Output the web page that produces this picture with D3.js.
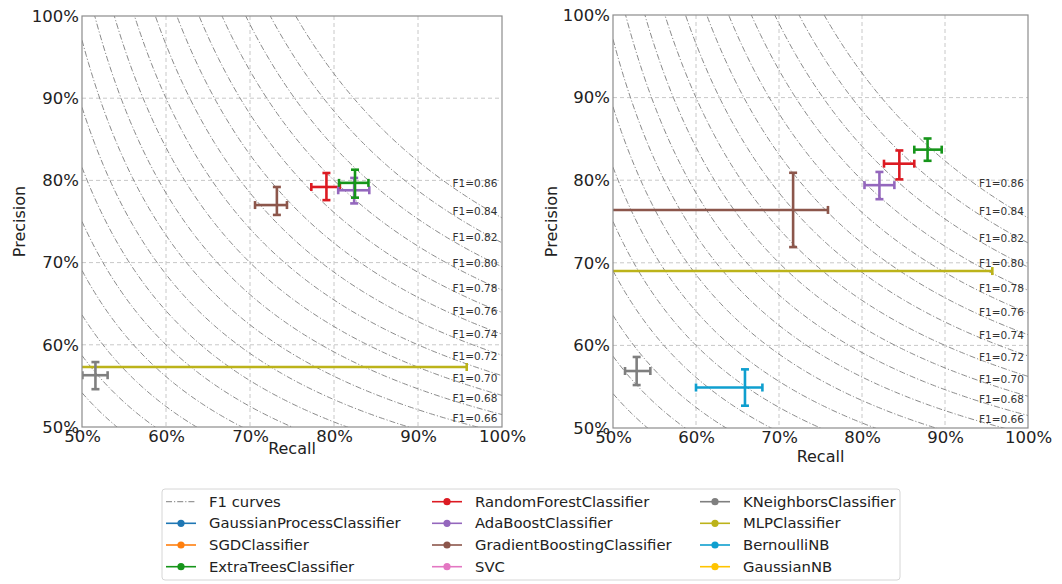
<!DOCTYPE html>
<html>
<head>
<meta charset="utf-8">
<script src="https://cdn.jsdelivr.net/npm/d3@7"></script>
<style>
body { margin: 0; background: #fff; }
text { font-family: "DejaVu Sans", sans-serif; fill: #222; }
</style>
</head>
<body>
<script>
// F1 iso-curves drawn on both panels
var f1Values = [0.50, 0.52, 0.54, 0.56, 0.58, 0.60, 0.62, 0.64, 0.66, 0.68, 0.70,
                0.72, 0.74, 0.76, 0.78, 0.80, 0.82, 0.84, 0.86]
var f1Labelled = [0.66, 0.68, 0.70, 0.72, 0.74, 0.76, 0.78, 0.80, 0.82, 0.84, 0.86]
var ticks = [50, 60, 70, 80, 90, 100]

// legend entries, matplotlib tab10 order
var classifiers = ["GaussianProcessClassifier", "SGDClassifier", "ExtraTreesClassifier",
  "RandomForestClassifier", "AdaBoostClassifier", "GradientBoostingClassifier", "SVC",
  "KNeighborsClassifier", "MLPClassifier", "BernoulliNB", "GaussianNB"]
var colors = ["#1f77b4", "#ff7f0e", "#16951a", "#dc1a22", "#9467bd", "#8c564b", "#e377c2",
  "#7f7f7f", "#bcb31a", "#0f9fcf", "#ffc400"]

// left panel (visible classifiers only)
var leftNames     = ["MLPClassifier", "KNeighborsClassifier", "GradientBoostingClassifier", "RandomForestClassifier", "AdaBoostClassifier", "ExtraTreesClassifier"]
var leftRecall    = [45.8, 51.6, 73.2, 79.1, 82.4, 82.5]
var leftRecallLo  = [50.0, 1.55, 2.6, 1.8, 1.9, 1.9]
var leftRecallHi  = [50.0, 1.45, 1.2, 1.6, 1.8, 1.6]
var leftPrec      = [57.3, 56.3, 77.0, 79.2, 78.8, 79.7]
var leftPrecLo    = [0.0, 1.7, 1.2, 1.6, 1.6, 1.8]
var leftPrecHi    = [0.0, 1.6, 2.2, 1.7, 1.5, 1.6]

// right panel
var rightNames    = ["MLPClassifier", "GradientBoostingClassifier", "KNeighborsClassifier", "BernoulliNB", "AdaBoostClassifier", "RandomForestClassifier", "ExtraTreesClassifier"]
var rightRecall   = [45.7, 71.7, 52.85, 65.9, 82.1, 84.5, 87.9]
var rightRecallLo = [50.0, 25.0, 1.4, 5.9, 1.8, 1.85, 1.6]
var rightRecallHi = [50.0, 4.2, 1.65, 2.1, 1.8, 1.8, 1.7]
var rightPrec     = [69.0, 76.4, 56.9, 54.9, 79.4, 82.0, 83.7]
var rightPrecLo   = [0.0, 4.5, 1.7, 2.2, 1.7, 1.9, 1.35]
var rightPrecHi   = [0.0, 4.5, 1.7, 2.2, 1.6, 1.6, 1.35]

var width = 1062, height = 584

var svg = d3.select("body").append("svg").attr("width", width).attr("height", height)

var panels = [
  {x0: 82, x1: 502, y0: 16, y1: 427, recallY: 454, precX: 19, names: leftNames, r: leftRecall, rlo: leftRecallLo, rhi: leftRecallHi, p: leftPrec, plo: leftPrecLo, phi: leftPrecHi},
  {x0: 613, x1: 1028, y0: 15, y1: 428, recallY: 462, precX: 551, names: rightNames, r: rightRecall, rlo: rightRecallLo, rhi: rightRecallHi, p: rightPrec, plo: rightPrecLo, phi: rightPrecHi}
]

function colorOf(name) { return colors[classifiers.indexOf(name)] }

panels.forEach(function(P, k) {
  var x = d3.scaleLinear().domain([50, 100]).range([P.x0, P.x1])
  var y = d3.scaleLinear().domain([50, 100]).range([P.y1, P.y0])
  var g = svg.append("g").attr("id", "panel" + k)

  g.append("clipPath").attr("id", "clip" + k).append("rect")
    .attr("x", P.x0).attr("y", P.y0).attr("width", P.x1 - P.x0).attr("height", P.y1 - P.y0)

  // grid
  g.append("g").selectAll("line.gx").data(ticks.slice(1, -1)).enter().append("line")
    .attr("x1", d => x(d)).attr("x2", d => x(d)).attr("y1", P.y0).attr("y2", P.y1)
    .attr("stroke", "#c8c8c8").attr("stroke-dasharray", "4,3")
  g.append("g").selectAll("line.gy").data(ticks.slice(1, -1)).enter().append("line")
    .attr("y1", d => y(d)).attr("y2", d => y(d)).attr("x1", P.x0).attr("x2", P.x1)
    .attr("stroke", "#c8c8c8").attr("stroke-dasharray", "4,3")

  // F1 curves: p = f*r / (2r - f)
  var line = d3.line().x(d => x(d[0])).y(d => y(d[1]))
  var rs = d3.range(0, 201).map(i => 50 + i * 0.25)
  var curves = g.append("g").attr("clip-path", "url(#clip" + k + ")")
  f1Values.forEach(function(f) {
    var pts = rs.map(function(r) {
      var rr = r / 100
      var p = f * rr / (2 * rr - f)
      return [r, p * 100]
    }).filter(d => d[1] > 0 && d[1] <= 104)
    curves.append("path").attr("d", line(pts)).attr("fill", "none")
      .attr("stroke", "#8a8a8a").attr("stroke-width", 1)
      .attr("stroke-dasharray", "6,2,1.2,2")
  })

  // F1 labels
  g.append("g").selectAll("text").data(f1Labelled).enter().append("text")
    .attr("x", x(94.1))
    .attr("y", function(f) { var rr = 0.935; return y(100 * f * rr / (2 * rr - f)) })
    .attr("dy", "0.35em").attr("font-size", "10.5px").style("fill", "#333")
    .text(f => "F1=" + f.toFixed(2))

  // error bars
  var bars = g.append("g").attr("clip-path", "url(#clip" + k + ")")
  P.names.forEach(function(name, i) {
    var c = colorOf(name), cx = x(P.r[i]), cy = y(P.p[i])
    var xl = x(P.r[i] - P.rlo[i]), xh = x(P.r[i] + P.rhi[i])
    var yl = y(P.p[i] - P.plo[i]), yh = y(P.p[i] + P.phi[i])
    var cap = 4
    var gg = bars.append("g").attr("stroke", c).attr("stroke-width", 2.6).attr("fill", "none")
    gg.append("line").attr("x1", xl).attr("x2", xh).attr("y1", cy).attr("y2", cy)
    gg.append("line").attr("x1", xl).attr("x2", xl).attr("y1", cy - cap).attr("y2", cy + cap)
    gg.append("line").attr("x1", xh).attr("x2", xh).attr("y1", cy - cap).attr("y2", cy + cap)
    if (P.plo[i] + P.phi[i] > 0) {
      gg.append("line").attr("x1", cx).attr("x2", cx).attr("y1", yl).attr("y2", yh)
      gg.append("line").attr("x1", cx - cap).attr("x2", cx + cap).attr("y1", yl).attr("y2", yl)
      gg.append("line").attr("x1", cx - cap).attr("x2", cx + cap).attr("y1", yh).attr("y2", yh)
    }
  })

  // frame
  g.append("rect").attr("x", P.x0).attr("y", P.y0).attr("width", P.x1 - P.x0).attr("height", P.y1 - P.y0)
    .attr("fill", "none").attr("stroke", "#8c8c8c").attr("stroke-width", 1.2)

  // axes
  var ax = g.append("g").attr("transform", "translate(0," + P.y1 + ")")
    .call(d3.axisBottom(x).tickValues(ticks).tickSize(0).tickPadding(3).tickFormat(d => d + "%"))
  var ay = g.append("g").attr("transform", "translate(" + P.x0 + ",0)")
    .call(d3.axisLeft(y).tickValues(ticks).tickSize(0).tickPadding(3).tickFormat(d => d + "%"))
  ;[ax, ay].forEach(function(a) {
    a.select(".domain").remove()
    a.selectAll("text").attr("font-size", "16.5px").style("fill", "#222").attr("font-family", "DejaVu Sans")
  })

  g.append("text").attr("x", (P.x0 + P.x1) / 2).attr("y", P.recallY).attr("text-anchor", "middle")
    .attr("font-size", "16px").text("Recall")
  g.append("text").attr("transform", "translate(" + P.precX + "," + ((P.y0 + P.y1) / 2) + ") rotate(-90)")
    .attr("text-anchor", "middle").attr("dy", "0.35em").attr("font-size", "16px").text("Precision")
})

// legend
var legendEntries = ["F1 curves"].concat(classifiers)
var lg = svg.append("g").attr("id", "legend")
lg.append("rect").attr("x", 162).attr("y", 489).attr("width", 738).attr("height", 91).attr("rx", 3)
  .attr("fill", "#fff").attr("stroke", "#d6d6d6")
var colX = [166, 432, 700], rowY = [501.7, 523.3, 545, 566.7]
legendEntries.forEach(function(name, i) {
  var cx = colX[Math.floor(i / 4)], cy = rowY[i % 4]
  if (i == 0) {
    lg.append("line").attr("x1", cx).attr("x2", cx + 30).attr("y1", cy).attr("y2", cy)
      .attr("stroke", "#999").attr("stroke-width", 1.2).attr("stroke-dasharray", "6,2,1.2,2")
  } else {
    var c = colors[i - 1]
    lg.append("line").attr("x1", cx).attr("x2", cx + 30).attr("y1", cy).attr("y2", cy)
      .attr("stroke", c).attr("stroke-width", 1.6)
    lg.append("circle").attr("cx", cx + 15).attr("cy", cy).attr("r", 3.6).attr("fill", c)
  }
  lg.append("text").attr("x", cx + 43).attr("y", cy).attr("dy", "0.35em")
    .attr("font-size", "14.8px").text(name)
})
</script>
</body>
</html>
